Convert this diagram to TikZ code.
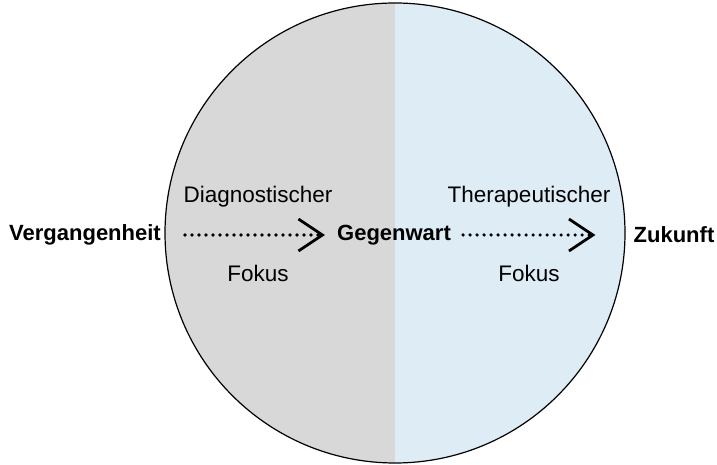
\documentclass[tikz,border=0pt]{standalone}
\usepackage{fontspec}
\setmainfont{Liberation Sans}
\usetikzlibrary{arrows.meta,positioning}

\definecolor{pastgray}{RGB}{216,216,216}
\definecolor{futureblue}{RGB}{221,236,245}

\begin{document}
\begin{tikzpicture}[x=1pt,y=1pt,
    label/.style={font=\fontsize{22.5}{27}\selectfont, inner sep=0pt},
    time/.style={label, font=\fontsize{22}{27}\selectfont\bfseries},
    focus/.style={dash pattern=on 0pt off 7pt, line cap=round, line width=3.6pt,
        -{Straight Barb[length=24pt,width=32pt,line width=2.8pt]}}]
   \useasboundingbox (0,0) rectangle (717,465);

   % the two halves of the circle
   \fill[pastgray] (395,462) arc (90:270:230) -- cycle;
   \fill[futureblue] (395,462) arc (90:-90:230) -- cycle;
   \draw[line width=1.2pt] (395,232) circle (230);

   \node[time] (past)    at (85,230)  {Vergangenheit};
   \node[time] (present) at (394,230) {Gegenwart};
   \node[time] (future)  at (674,230) {Zukunft};

   \node[label] (diag)  at (258,268) {Diagnostischer};
   \node[label] (diagf) at (258,192) {Fokus};
   \node[label] (ther)  at (529,268) {Therapeutischer};
   \node[label] (therf) at (529,192) {Fokus};

    \draw[focus, shorten <=24pt, shorten >=12pt] (past) -- (present);
    \draw[focus, shorten <=12pt, shorten >=38pt] (present) -- (future);
\end{tikzpicture}
\end{document}
